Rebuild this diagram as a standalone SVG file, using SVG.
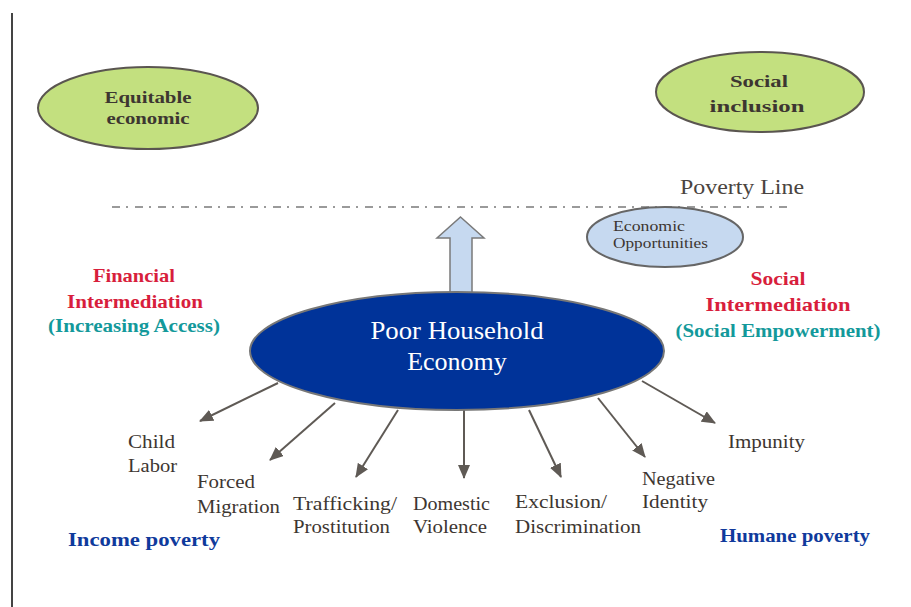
<svg xmlns="http://www.w3.org/2000/svg" width="911" height="607" viewBox="0 0 911 607" font-family="'Liberation Serif', 'Times New Roman', serif">
<style>
text{font-family:'Liberation Serif','Times New Roman',serif}
.lbl{font-size:19px;fill:#3d3631}
.goal{font-size:17px;font-weight:bold;fill:#3d3631;text-anchor:middle}
.red{font-size:19px;font-weight:bold;fill:#d81e3c;text-anchor:middle}
.teal{font-size:19px;font-weight:bold;fill:#13999b;text-anchor:middle}
.blue{font-size:19px;font-weight:bold;fill:#0f3a9c}
.green{fill:#c3e07f;stroke:#5a5550;stroke-width:2}
.conn line{stroke:#5f5a55;stroke-width:2;marker-end:url(#ah)}
</style>
<defs>
<marker id="ah" markerUnits="userSpaceOnUse" markerWidth="14" markerHeight="12" refX="13" refY="6" orient="auto">
<path d="M0,0 L14,6 L0,12 z" fill="#5f5a55"/>
</marker>
</defs>
<rect width="911" height="607" fill="#fff"/>
<line x1="12" y1="13" x2="12" y2="607" stroke="#444" stroke-width="2"/>

<g id="equitable">
<ellipse class="green" cx="148" cy="108" rx="110" ry="41"/>
<text class="goal" x="148" y="103" textLength="87" lengthAdjust="spacingAndGlyphs">Equitable</text>
<text class="goal" x="148" y="124" textLength="83" lengthAdjust="spacingAndGlyphs">economic</text>
</g>

<g id="social-inclusion">
<ellipse class="green" cx="760" cy="92" rx="104" ry="40"/>
<text class="goal" x="759" y="87" textLength="58" lengthAdjust="spacingAndGlyphs">Social</text>
<text class="goal" x="757" y="112" textLength="95" lengthAdjust="spacingAndGlyphs">inclusion</text>
</g>

<g id="poverty-line">
<line x1="112" y1="207" x2="790" y2="207" stroke="#9a9a9a" stroke-width="2" stroke-dasharray="8,6,2,7"/>
<text x="680" y="194" font-size="21" fill="#4a4440" textLength="124" lengthAdjust="spacingAndGlyphs">Poverty Line</text>
</g>

<g id="up-arrow">
<polygon points="460.5,217 484,238 472,238 472,320 450,320 450,238 437,238" fill="#c6d9f0" stroke="#7a7a7a" stroke-width="1.5"/>
</g>

<g id="economic-opportunities">
<ellipse cx="665" cy="237" rx="78" ry="30" fill="#c6d9f0" stroke="#666" stroke-width="2"/>
<text x="613" y="231" font-size="14" fill="#3d3631" textLength="72" lengthAdjust="spacingAndGlyphs">Economic</text>
<text x="613" y="248" font-size="14" fill="#3d3631" textLength="95" lengthAdjust="spacingAndGlyphs">Opportunities</text>
</g>

<g id="financial-intermediation">
<text class="red" x="134" y="282" textLength="82" lengthAdjust="spacingAndGlyphs">Financial</text>
<text class="red" x="135" y="308" textLength="136" lengthAdjust="spacingAndGlyphs">Intermediation</text>
<text class="teal" x="134" y="332" textLength="172" lengthAdjust="spacingAndGlyphs">(Increasing Access)</text>
</g>

<g id="social-intermediation">
<text class="red" x="778" y="285" textLength="55" lengthAdjust="spacingAndGlyphs">Social</text>
<text class="red" x="778" y="311" textLength="145" lengthAdjust="spacingAndGlyphs">Intermediation</text>
<text class="teal" x="778" y="337" textLength="205" lengthAdjust="spacingAndGlyphs">(Social Empowerment)</text>
</g>

<g class="conn" id="connectors">
<line x1="278" y1="383" x2="200" y2="421"/>
<line x1="335" y1="403" x2="270" y2="460"/>
<line x1="398" y1="410" x2="356" y2="477"/>
<line x1="464" y1="410" x2="464" y2="478"/>
<line x1="529" y1="410" x2="561" y2="477"/>
<line x1="598" y1="398" x2="645" y2="457"/>
<line x1="642" y1="381" x2="715" y2="423"/>
</g>

<g id="poor-household">
<ellipse cx="457" cy="351" rx="207" ry="59" fill="#003399" stroke="#777" stroke-width="2"/>
<text x="457" y="339" font-size="26" fill="#fff" text-anchor="middle" textLength="173" lengthAdjust="spacingAndGlyphs">Poor Household</text>
<text x="457" y="370" font-size="26" fill="#fff" text-anchor="middle">Economy</text>
</g>

<g id="child-labor">
<text class="lbl" x="128" y="448" textLength="47" lengthAdjust="spacingAndGlyphs">Child</text>
<text class="lbl" x="128" y="472" textLength="49" lengthAdjust="spacingAndGlyphs">Labor</text>
</g>
<g id="forced-migration">
<text class="lbl" x="197" y="488" textLength="58" lengthAdjust="spacingAndGlyphs">Forced</text>
<text class="lbl" x="197" y="513" textLength="83" lengthAdjust="spacingAndGlyphs">Migration</text>
</g>
<g id="trafficking">
<text class="lbl" x="293" y="510" textLength="104" lengthAdjust="spacingAndGlyphs">Trafficking/</text>
<text class="lbl" x="293" y="533" textLength="97" lengthAdjust="spacingAndGlyphs">Prostitution</text>
</g>
<g id="domestic-violence">
<text class="lbl" x="413" y="510" textLength="77" lengthAdjust="spacingAndGlyphs">Domestic</text>
<text class="lbl" x="413" y="533" textLength="74" lengthAdjust="spacingAndGlyphs">Violence</text>
</g>
<g id="exclusion">
<text class="lbl" x="515" y="508" textLength="92" lengthAdjust="spacingAndGlyphs">Exclusion/</text>
<text class="lbl" x="515" y="533" textLength="126" lengthAdjust="spacingAndGlyphs">Discrimination</text>
</g>
<g id="negative-identity">
<text class="lbl" x="642" y="485" textLength="73" lengthAdjust="spacingAndGlyphs">Negative</text>
<text class="lbl" x="642" y="508" textLength="66" lengthAdjust="spacingAndGlyphs">Identity</text>
</g>
<g id="impunity">
<text class="lbl" x="728" y="448" textLength="77" lengthAdjust="spacingAndGlyphs">Impunity</text>
</g>

<g id="income-poverty">
<text class="blue" x="68" y="546" textLength="152" lengthAdjust="spacingAndGlyphs">Income poverty</text>
</g>
<g id="humane-poverty">
<text class="blue" x="720" y="542" textLength="150" lengthAdjust="spacingAndGlyphs">Humane poverty</text>
</g>
</svg>
